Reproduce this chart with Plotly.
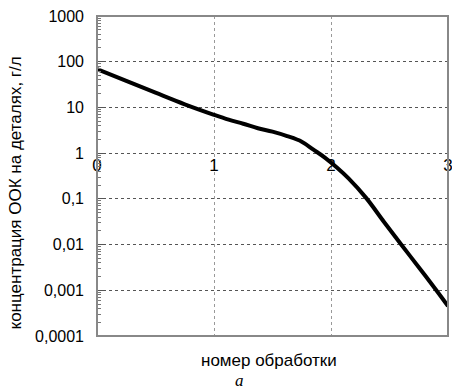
import plotly.graph_objects as go

x_vals = [0, 0.25, 0.5, 0.75, 1, 1.125, 1.25, 1.375, 1.5, 1.625, 1.75, 1.85, 1.95,
          2.05, 2.15, 2.3, 2.45, 2.6, 2.75, 2.9, 3]
y_vals = [69, 38, 21, 11.7, 6.9, 5.4, 4.4, 3.5, 2.95, 2.36, 1.78, 1.19, 0.79,
          0.485, 0.28, 0.105, 0.032, 0.01, 0.0032, 0.001, 0.00045]

x_ticks = [0, 1, 2, 3]
x_ticktext = ["0", "1", "2", "3"]
y_ticks = [1e-4, 1e-3, 1e-2, 1e-1, 1, 10, 100, 1000]
y_ticktext = ["0,0001", "0,001", "0,01", "0,1", "1", "10", "100", "1000"]

y_title = "концентрация ООК на деталях, г/л"
x_title = "номер обработки"
caption = "а"

font_family = "Liberation Sans, Arial, sans-serif"

fig = go.Figure()
fig.add_trace(go.Scatter(
    x=x_vals, y=y_vals, mode="lines",
    line=dict(color="black", width=4, shape="spline", smoothing=1.0),
    showlegend=False,
))

fig.update_layout(
    width=452, height=391,
    margin=dict(l=97, r=4, t=16, b=55),
    paper_bgcolor="white", plot_bgcolor="white",
    font=dict(family=font_family, color="black", size=16),
    xaxis=dict(
        range=[0, 3], anchor="free", position=4/7,
        tickvals=x_ticks, ticktext=x_ticktext,
        tickfont=dict(size=17), ticks="", showline=False,
        showgrid=True, gridcolor="#999", griddash="dot", gridwidth=1,
        zeroline=False, ticklabelstandoff=0, automargin=False,
        ticklabeloverflow="allow",
    ),
    yaxis=dict(
        type="log", range=[-4, 3],
        tickvals=y_ticks, ticktext=y_ticktext,
        ticks="inside", ticklen=6, tickcolor="#555",
        minor=dict(ticks="inside", ticklen=4, tickcolor="#777", dtick="D1", showgrid=False),
        showline=False,
        showgrid=True, gridcolor="#555", griddash="dot", gridwidth=1,
        tickfont=dict(size=16), ticklabelstandoff=12,
        zeroline=False, automargin=False, ticklabeloverflow="allow",
    ),
    shapes=[
        dict(type="rect", xref="paper", yref="paper", x0=0, x1=1, y0=0, y1=1,
             line=dict(color="#888", width=2), fillcolor="rgba(0,0,0,0)", layer="above"),
    ],
    annotations=[
        dict(text=y_title, xref="paper", yref="paper", x=(15.5 - 97) / 351, y=0.447,
             xanchor="center", yanchor="middle", textangle=-90, showarrow=False,
             font=dict(size=17)),
        dict(text=x_title, xref="paper", yref="paper", x=0.49, y=-0.075,
             xanchor="center", yanchor="middle", showarrow=False, font=dict(size=17)),
        dict(text="<i>" + caption + "</i>", xref="paper", yref="paper", x=0.407, y=-0.14,
             xanchor="center", yanchor="middle", showarrow=False,
             font=dict(size=17, family="Liberation Serif, Times New Roman, serif")),
    ],
)

fig.write_html("out.html", config={"displayModeBar": False},
               post_script="document.body.style.margin='0';")
